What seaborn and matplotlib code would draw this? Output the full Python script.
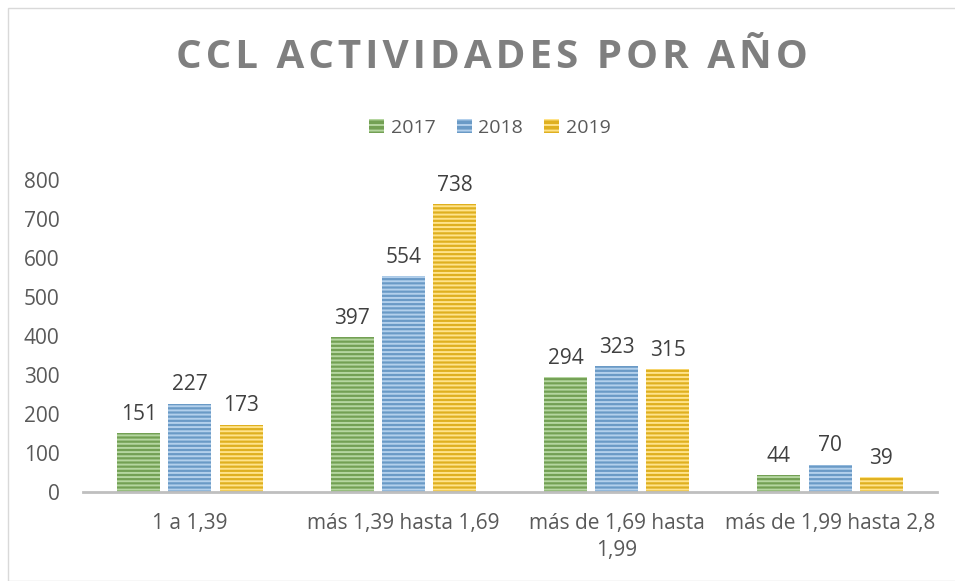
import matplotlib
matplotlib.use("Agg")
import matplotlib.pyplot as plt
import seaborn as sns
import pandas as pd
from matplotlib.patches import Rectangle

categories = ["1 a 1,39", "más 1,39 hasta 1,69", "más de 1,69 hasta\n1,99", "más de 1,99 hasta 2,8"]
years = ["2017", "2018", "2019"]
v2017 = [151, 397, 294, 44]
v2018 = [227, 554, 323, 70]
v2019 = [173, 738, 315, 39]

df = pd.DataFrame({
    "cat": categories * 3,
    "year": [y for y in years for _ in categories],
    "val": v2017 + v2018 + v2019,
})

sns.set_theme(style="white")
plt.rcParams['font.family'] = ['Open Sans', 'DejaVu Sans']
plt.rcParams['hatch.linewidth'] = 1.4
txt = "#595959"
colors = ["#70AD47", "#5B9BD5", "#FFC000"]
hatchcols = ["#B5D6A0", "#B3D0EC", "#FFE38A"]

fig = plt.figure(figsize=(9.55, 5.81), dpi=100)
ax = fig.add_axes([0.087, 0.153, 0.894, 0.537])
sns.barplot(data=df, x="cat", y="val", hue="year", palette=colors, width=0.72, gap=0.16,
            ax=ax, legend=True)

for i, cont in enumerate(ax.containers):
    for b in cont:
        b.set_hatch("----")
        b.set_edgecolor(hatchcols[i])
        b.set_linewidth(0)
    ax.bar_label(cont, padding=6, fontsize=15, color="#404040")

ax.set_ylim(0, 800)
ax.set_yticks(range(0, 801, 100))
ax.set_xlabel("")
ax.set_ylabel("")
ax.tick_params(axis="both", colors=txt, labelsize=15, length=0)
ax.tick_params(axis="y", pad=17)
ax.tick_params(axis="x", pad=15)
for lab in ax.get_xticklabels():
    lab.set_linespacing(1.35)
    lab.set_verticalalignment("top")
for s in ["top", "right", "left"]:
    ax.spines[s].set_visible(False)
ax.spines["bottom"].set_color("#BFBFBF")
ax.spines["bottom"].set_linewidth(2)

leg = ax.legend(loc="center", bbox_to_anchor=(490/955, 1 - 128/581), bbox_transform=fig.transFigure,
                ncol=3, frameon=False, fontsize=14, handlelength=0.75, handleheight=0.75,
                handletextpad=0.35, columnspacing=1.1)
for t in leg.get_texts():
    t.set_color(txt)
for i, h in enumerate(leg.legend_handles):
    h.set_hatch("---")
    h.set_edgecolor(hatchcols[i])
    h.set_linewidth(0)

title = "\u200a".join("CCL ACTIVIDADES POR AÑO")
fig.text(492/955, 1 - 58/581, title, ha="center", va="center",
         fontsize=29, fontweight="bold", color="#7F7F7F")

fig.patches.append(Rectangle((8/955, 0), 1, 1 - 8/581, transform=fig.transFigure,
                             fill=False, edgecolor="#D9D9D9", linewidth=1))

fig.savefig("out.png", dpi=100)
